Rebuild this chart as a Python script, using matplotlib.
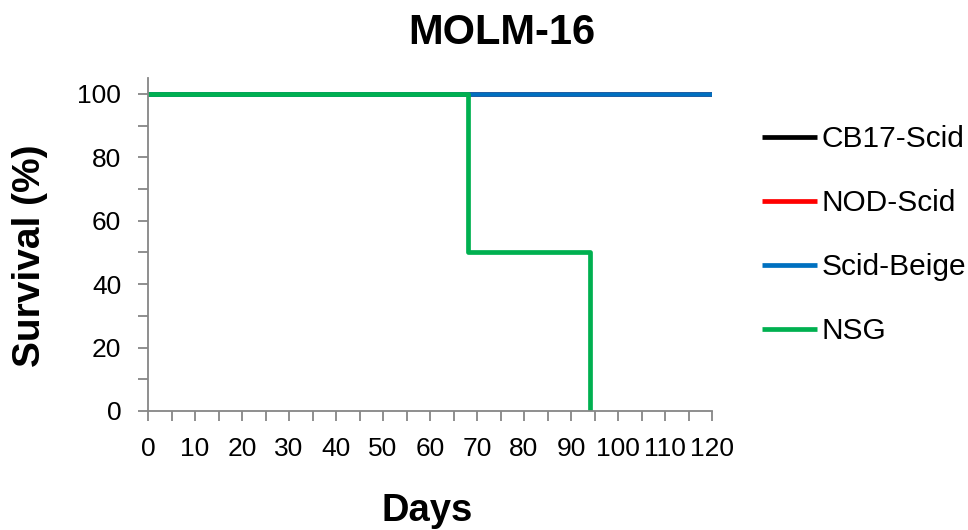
import matplotlib
matplotlib.use("Agg")
import matplotlib.pyplot as plt
from matplotlib.ticker import MultipleLocator

plt.rcParams['font.family'] = ['Liberation Sans', 'DejaVu Sans']

title = "MOLM-16"
xlabel = "Days"
ylabel = "Survival (%)"

series_names = ["CB17-Scid", "NOD-Scid", "Scid-Beige", "NSG"]
series_colors = ["#000000", "#FF0000", "#0070C0", "#00B050"]
cb17_days = [0, 120]
cb17_surv = [100, 100]
nod_days = [0, 120]
nod_surv = [100, 100]
beige_days = [0, 120]
beige_surv = [100, 100]
nsg_days = [0, 68, 94]
nsg_surv = [100, 50, 0]

days_list = [cb17_days, nod_days, beige_days, nsg_days]
surv_list = [cb17_surv, nod_surv, beige_surv, nsg_surv]

W, H = 968, 530
fig = plt.figure(figsize=(W/100, H/100), dpi=100)
ax = fig.add_axes([148/W, 1-411/H, (712-148)/W, (411-78)/H])

for name, col, d, s in zip(series_names, series_colors, days_list, surv_list):
    ax.plot(d, s, drawstyle='steps-post', color=col, lw=3.4, label=name,
            solid_capstyle='butt')

ax.set_xlim(0, 120)
ax.set_ylim(0, 105)
ax.xaxis.set_major_locator(MultipleLocator(10))
ax.xaxis.set_minor_locator(MultipleLocator(5))
ax.yaxis.set_major_locator(MultipleLocator(20))
ax.yaxis.set_minor_locator(MultipleLocator(10))

for sp in ['top', 'right']:
    ax.spines[sp].set_visible(False)
for sp in ['left', 'bottom']:
    ax.spines[sp].set_color('#868686')
    ax.spines[sp].set_linewidth(1.3)

ax.tick_params(which='both', direction='out', length=7.2, width=1.3, color='#868686',
               labelsize=19, labelcolor='black')
ax.tick_params(axis='x', which='both', pad=11.5)
ax.tick_params(axis='y', which='both', pad=12)

fig.text(502/W, 1-13/H, title, fontsize=30, fontweight='bold', ha='center', va='top')
fig.text(427/W, 1-493/H, xlabel, fontsize=27.5, fontweight='bold', ha='center', va='top')
fig.text(30/W, 1-256/H, ylabel, fontsize=28, fontweight='bold', ha='center', va='center',
         rotation=90)

fig.legend(loc='upper left', bbox_to_anchor=(762/W, 1-125/H), frameon=False,
           fontsize=21.5, handlelength=1.84, handletextpad=0.15, labelspacing=1.21,
           borderpad=0, borderaxespad=0)

fig.savefig("out.png", dpi=100)
